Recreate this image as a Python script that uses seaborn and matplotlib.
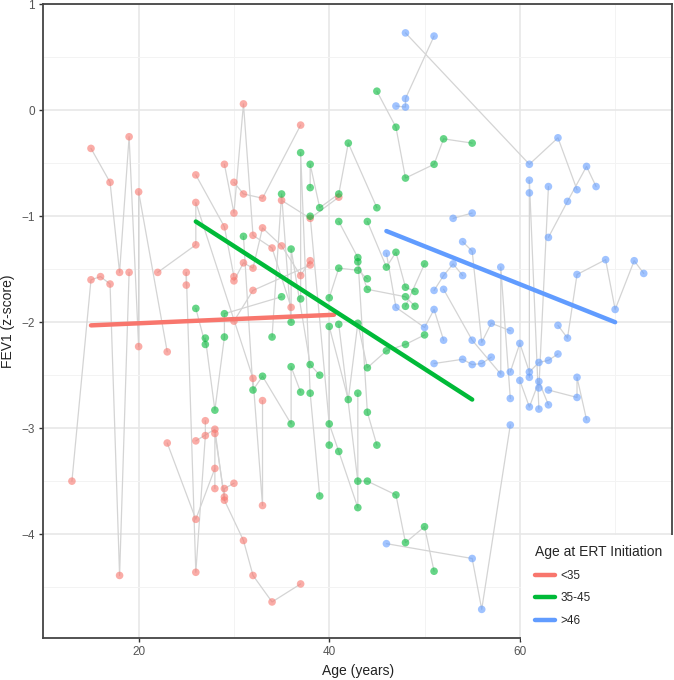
import pandas as pd
import matplotlib.pyplot as plt
import seaborn as sns
from matplotlib.patches import Rectangle
from matplotlib.ticker import MultipleLocator

# Age at ERT initiation groups and ggplot-like colours
groups = ['<35', '35-45', '>46']
colors = ['#F8766D', '#00BA38', '#619CFF']

# (age, FEV1 z-score) visits, one list per patient
under_35 = [
    [(15, -0.36), (17, -0.68), (18, -1.53), (19, -0.25), (20, -0.77), (20, -2.23), (23, -2.28)],
    [(13, -3.50), (15, -1.60), (16, -1.57), (17, -1.64), (18, -4.39), (19, -1.53)],
    [(22, -1.53), (26, -1.27), (26, -0.87), (32, -2.53), (33, -2.74), (33, -3.73)],
    [(23, -3.14), (26, -3.86), (28, -3.38)],
    [(25, -1.53), (25, -1.65), (26, -4.36), (27, -2.93), (27, -3.07)],
    [(26, -3.12), (28, -3.01), (29, -3.68), (31, -4.06), (32, -4.39), (34, -4.64), (37, -4.47)],
    [(28, -3.05), (28, -3.57), (29, -3.57), (29, -3.65), (30, -3.52)],
    [(26, -0.61), (29, -1.10), (30, -1.57)],
    [(30, -0.68), (31, -0.79), (33, -0.83), (37, -0.14)],
    [(29, -0.51), (30, -0.97), (31, 0.06), (32, -1.18), (34, -1.30), (36, -1.86)],
    [(30, -1.61), (31, -1.44), (32, -1.49), (33, -1.11), (35, -1.28), (37, -1.56), (38, -1.42)],
    [(35, -0.85), (38, -1.02), (41, -0.82)],
    [(30, -1.99), (32, -1.70), (38, -1.46)],
]

between_35_45 = [
    [(26, -1.87), (27, -2.15), (27, -2.21), (28, -2.83), (29, -2.14), (29, -1.92), (35, -1.76)],
    [(31, -1.19), (32, -2.64), (33, -2.51), (36, -2.42), (36, -2.96), (37, -2.66)],
    [(34, -2.14), (35, -0.79), (36, -1.31), (36, -2.00), (38, -2.40), (39, -2.50)],
    [(37, -0.40), (37, -1.78), (38, -2.67), (39, -3.64)],
    [(38, -0.51), (38, -0.73), (39, -0.92), (41, -0.79), (42, -0.31), (45, -0.92)],
    [(38, -1.00), (40, -2.96), (41, -3.22), (43, -3.75), (43, -2.67)],
    [(40, -1.77), (41, -1.49), (43, -1.51), (44, -1.59)],
    [(40, -2.04), (40, -3.16), (42, -2.73), (43, -2.01), (44, -2.43), (46, -2.27), (48, -2.21), (50, -2.12)],
    [(41, -1.05), (43, -1.39), (44, -2.85), (45, -3.16)],
    [(41, -2.02), (43, -3.50), (44, -3.50), (47, -3.63), (48, -4.08), (50, -3.93), (51, -4.35)],
    [(44, -1.05), (46, -1.48), (47, -1.34), (48, -1.67), (49, -1.71)],
    [(43, -1.43), (44, -1.69), (48, -1.76), (49, -1.85)],
    [(45, 0.18), (47, -0.16), (48, -0.64), (51, -0.51), (52, -0.27), (55, -0.31)],
    [(48, -1.85), (50, -1.45)],
]

over_46 = [
    [(48, 0.73), (61, -0.51), (64, -0.26), (66, -0.75)],
    [(47, 0.04), (48, 0.03), (48, 0.11), (51, 0.70)],
    [(61, -0.66), (61, -0.78), (61, -2.52), (62, -2.82)],
    [(62, -2.62), (63, -0.72)],
    [(63, -1.20), (65, -0.86), (67, -0.53), (68, -0.72)],
    [(64, -2.03), (65, -2.15), (66, -1.55), (69, -1.41), (70, -1.88), (72, -1.42), (73, -1.54)],
    [(53, -1.02), (55, -0.97)],
    [(54, -1.24), (55, -1.33), (56, -2.19), (57, -2.01), (59, -2.08)],
    [(51, -1.70), (52, -1.56), (53, -1.45), (54, -1.56)],
    [(46, -1.35), (47, -1.86), (50, -2.05), (51, -1.88), (52, -2.17)],
    [(51, -2.39), (54, -2.35), (55, -2.40), (56, -2.39), (57, -2.33)],
    [(52, -1.69), (55, -2.17), (58, -1.48), (58, -2.49), (59, -2.72)],
    [(59, -2.47), (60, -2.20), (61, -2.47), (62, -2.38), (63, -2.36), (64, -2.30)],
    [(60, -2.55), (61, -2.80), (62, -2.56), (63, -2.78)],
    [(63, -2.64), (66, -2.52), (66, -2.71), (67, -2.92)],
    [(46, -4.09), (55, -4.23), (56, -4.71), (59, -2.97)],
]

# Linear fit per group (end points)
fit_group = ['<35', '<35', '35-45', '35-45', '>46', '>46']
fit_age = [15, 40.5, 26, 55, 46, 70]
fit_fev1 = [-2.03, -1.93, -1.05, -2.73, -1.14, -2.00]

rows = []
for group, patients in zip(groups, [under_35, between_35_45, over_46]):
    for pid, visits in enumerate(patients):
        for age, z in visits:
            rows.append({'Patient': f'{group}_{pid}', 'Group': group, 'Age': age, 'FEV1': z})
df = pd.DataFrame(rows)
fit_df = pd.DataFrame({'Group': fit_group, 'Age': fit_age, 'FEV1': fit_fev1})
palette = dict(zip(groups, colors))

sns.set_theme(style='white')
plt.rcParams['font.family'] = ['Liberation Sans', 'DejaVu Sans']

fig = plt.figure(figsize=(6.74, 6.80), dpi=100)
ax = fig.add_axes([0.0643, 0.0618, 0.9332, 0.9319])

# patient trajectories
sns.lineplot(data=df, x='Age', y='FEV1', units='Patient', estimator=None,
             color='#D4D4D4', linewidth=0.9, legend=False, ax=ax, zorder=2)
sns.scatterplot(data=df, x='Age', y='FEV1', hue='Group', hue_order=groups,
                palette=palette, s=30, alpha=0.6, linewidth=0, legend=False,
                ax=ax, zorder=3)
# group fits
sns.lineplot(data=fit_df, x='Age', y='FEV1', hue='Group', hue_order=groups,
             palette=palette, linewidth=3.2, ax=ax, zorder=4)

ax.set_xlim(10, 76)
ax.set_ylim(-4.98, 1.0)
ax.xaxis.set_major_locator(MultipleLocator(20))
ax.xaxis.set_minor_locator(MultipleLocator(10))
ax.yaxis.set_major_locator(MultipleLocator(1))
ax.yaxis.set_minor_locator(MultipleLocator(0.5))
ax.set_axisbelow(True)
ax.grid(which='major', color='#E6E6E6', linewidth=1.1)
ax.grid(which='minor', color='#F3F3F3', linewidth=0.7)
ax.tick_params(which='major', length=3, width=1, color='#333333',
               labelcolor='#555555', labelsize=8.5, pad=3,
               bottom=True, left=True)
ax.tick_params(which='minor', length=0)
for side in ['left', 'bottom', 'top', 'right']:
    ax.spines[side].set_color('#444444')
    ax.spines[side].set_linewidth(1.3)

ax.set_xlabel('Age (years)', fontsize=10, color='#222222', labelpad=4)
ax.set_ylabel('FEV1 (z-score)', fontsize=10, color='#222222', labelpad=5)

# white legend background sitting over the bottom-right corner of the panel
ax.add_patch(Rectangle((0.7595, -0.005), 0.26, 0.1675, transform=ax.transAxes,
                       facecolor='white', edgecolor='none', clip_on=False, zorder=4.5))
leg = ax.legend(title='Age at ERT Initiation', loc='upper left',
                bbox_to_anchor=(0.772, 0.156), frameon=False, borderpad=0,
                fontsize=8.5, title_fontsize=10, handlelength=1.7,
                handletextpad=0.45, labelspacing=0.9, alignment='left')
leg.set_zorder(5)
for line in leg.get_lines():
    line.set_linewidth(3.2)

plt.savefig('out.png', dpi=100)
